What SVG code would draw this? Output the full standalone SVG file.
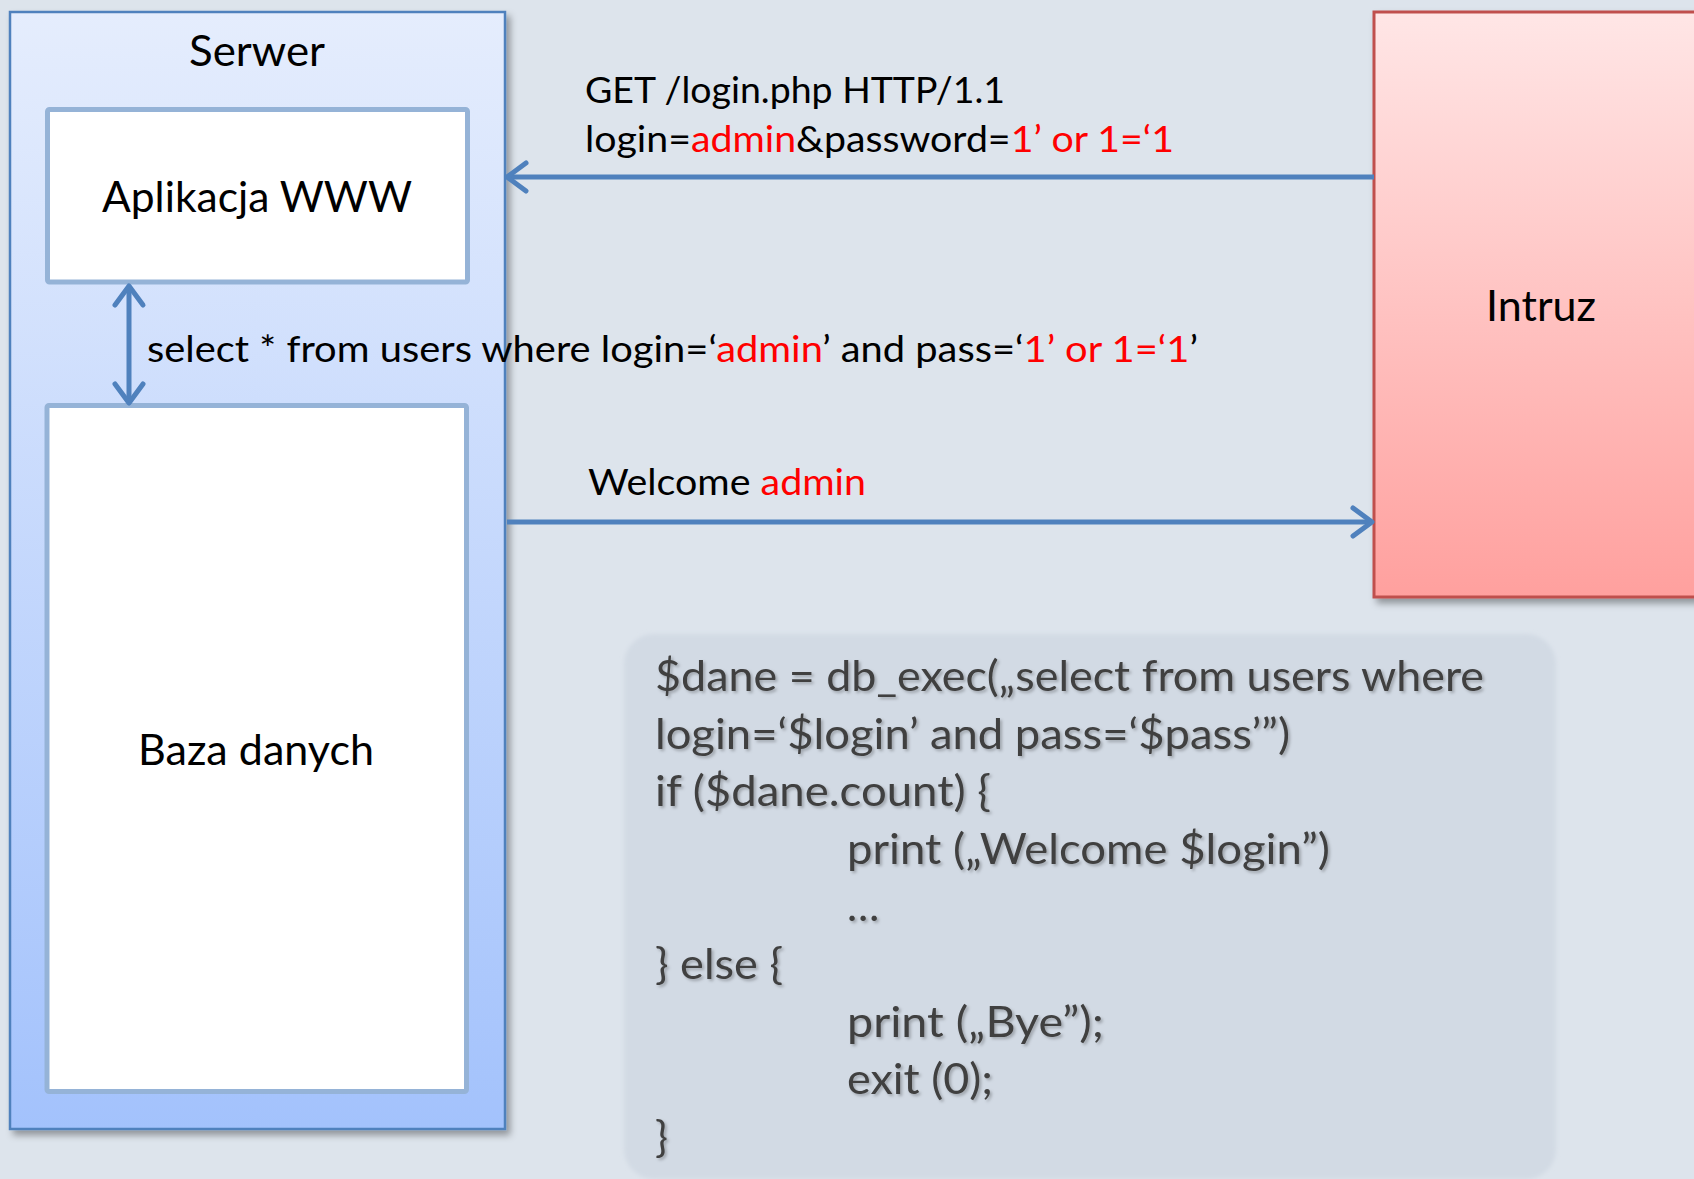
<svg xmlns="http://www.w3.org/2000/svg" width="1694" height="1179" viewBox="0 0 1694 1179">
  <style>
    .lbl { font-family: Lato, "Noto Sans", "Liberation Sans", sans-serif; fill: #000; }
    .node-title { font-size: 43px; text-anchor: middle; }
    .edge-lbl { font-size: 36px; }
    .hot { fill: #FF0000; }
    .inner { fill: #FFFFFF; stroke: #95B3D7; stroke-width: 5; }
    .link { fill: none; stroke: #4F81BD; stroke-width: 5; }
    .code { font-family: Lato, "Noto Sans", "Liberation Sans", sans-serif; font-size: 43px; fill: #404040; }
  </style>
  <defs>
    <linearGradient id="serverFill" x1="0" y1="0" x2="0" y2="1">
      <stop offset="0" stop-color="#E5EDFD"/>
      <stop offset="1" stop-color="#A3C2FC"/>
    </linearGradient>
    <linearGradient id="intruderFill" x1="0" y1="0" x2="0" y2="1">
      <stop offset="0" stop-color="#FFE6E6"/>
      <stop offset="1" stop-color="#FFA09E"/>
    </linearGradient>
    <filter id="boxShadow" x="-10%" y="-10%" width="130%" height="130%">
      <feDropShadow dx="4" dy="5" stdDeviation="3.5" flood-color="#000" flood-opacity="0.35"/>
    </filter>
    <filter id="textShadow" x="-5%" y="-20%" width="110%" height="150%">
      <feDropShadow dx="2" dy="2" stdDeviation="1.5" flood-color="#000" flood-opacity="0.25"/>
    </filter>
    <filter id="softEdge" x="-5%" y="-5%" width="110%" height="110%">
      <feGaussianBlur stdDeviation="2"/>
    </filter>
    <marker id="chevron" markerUnits="userSpaceOnUse" markerWidth="40" markerHeight="40" viewBox="-25 -20 30 40" refX="0" refY="0" orient="auto-start-reverse">
      <path d="M -19 -14 L 0 0 L -19 14" fill="none" stroke="#4F81BD" stroke-width="5" stroke-linecap="round" stroke-linejoin="round"/>
    </marker>
  </defs>

  <!-- page background -->
  <rect x="0" y="0" width="1694" height="1179" fill="#DDE4EC"/>

  <!-- server container -->
  <g id="node-serwer">
    <rect x="10" y="12" width="495" height="1117" fill="url(#serverFill)" stroke="#4F81BD" stroke-width="2.5" filter="url(#boxShadow)"/>
    <text class="lbl node-title" x="257" y="66" textLength="136" lengthAdjust="spacingAndGlyphs">Serwer</text>
  </g>

  <g id="node-aplikacja">
    <rect class="inner" x="47.5" y="109.5" width="420" height="172.5" rx="2"/>
    <text class="lbl node-title" x="257" y="212" textLength="310" lengthAdjust="spacingAndGlyphs">Aplikacja WWW</text>
  </g>

  <g id="node-baza">
    <rect class="inner" x="47" y="405.5" width="419.5" height="686" rx="2"/>
    <text class="lbl node-title" x="256" y="765" textLength="236" lengthAdjust="spacingAndGlyphs">Baza danych</text>
  </g>

  <!-- attacker -->
  <g id="node-intruz">
    <rect x="1374" y="12" width="340" height="585" fill="url(#intruderFill)" stroke="#C0504D" stroke-width="3" filter="url(#boxShadow)"/>
    <text class="lbl node-title" x="1541" y="321" textLength="110" lengthAdjust="spacingAndGlyphs">Intruz</text>
  </g>

  <!-- connectors -->
  <g id="connectors">
    <line class="link" x1="1374" y1="177" x2="507" y2="177" marker-end="url(#chevron)"/>
    <line class="link" x1="507" y1="522" x2="1372" y2="522" marker-end="url(#chevron)"/>
    <line class="link" x1="129" y1="286" x2="129" y2="403" marker-start="url(#chevron)" marker-end="url(#chevron)"/>
  </g>

  <!-- connector labels -->
  <g id="labels">
    <text class="lbl edge-lbl" x="585" y="103" textLength="420" lengthAdjust="spacingAndGlyphs">GET /login.php HTTP/1.1</text>
    <text class="lbl edge-lbl" x="585" y="152" textLength="589" lengthAdjust="spacingAndGlyphs">login=<tspan class="hot">admin</tspan>&amp;password=<tspan class="hot">1’ or 1=‘1</tspan></text>
    <text class="lbl edge-lbl" x="147" y="362" textLength="1051" lengthAdjust="spacingAndGlyphs">select * from users where login=‘<tspan class="hot">admin</tspan>’ and pass=‘<tspan class="hot">1’ or 1=‘1</tspan>’</text>
    <text class="lbl edge-lbl" x="588" y="495" textLength="278" lengthAdjust="spacingAndGlyphs">Welcome <tspan class="hot">admin</tspan></text>
  </g>

  <!-- server-side code listing -->
  <g id="code-block">
    <rect x="624" y="634" width="932" height="545" rx="30" fill="#D2DAE4" filter="url(#softEdge)"/>
    <g filter="url(#textShadow)">
      <text class="code" x="655" y="691" textLength="829" lengthAdjust="spacingAndGlyphs">$dane = db_exec(„select from users where</text>
      <text class="code" x="655" y="749" textLength="635" lengthAdjust="spacingAndGlyphs">login=‘$login’ and pass=‘$pass’”)</text>
      <text class="code" x="655" y="806" textLength="336" lengthAdjust="spacingAndGlyphs">if ($dane.count) {</text>
      <text class="code" x="847" y="864" textLength="483" lengthAdjust="spacingAndGlyphs">print („Welcome $login”)</text>
      <text class="code" x="847" y="921">…</text>
      <text class="code" x="655" y="979" textLength="128" lengthAdjust="spacingAndGlyphs">} else {</text>
      <text class="code" x="847" y="1037" textLength="257" lengthAdjust="spacingAndGlyphs">print („Bye”);</text>
      <text class="code" x="847" y="1094" textLength="146" lengthAdjust="spacingAndGlyphs">exit (0);</text>
      <text class="code" x="655" y="1152">}</text>
    </g>
  </g>
</svg>
